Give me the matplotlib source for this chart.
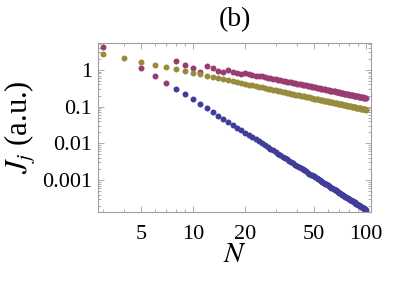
import matplotlib
matplotlib.use("Agg")
import matplotlib.pyplot as plt
import numpy as np
from matplotlib.ticker import FixedLocator, NullFormatter, FixedFormatter

plt.rcParams['font.family'] = ['Liberation Serif', 'DejaVu Serif']
plt.rcParams['mathtext.fontset'] = 'stix'

# N values
n_all = list(range(3, 101))
n_blue = list(range(8, 101))

# blue series (steep one), N = 8..100
blue = [0.305, 0.214, 0.156, 0.117, 0.0903, 0.0710, 0.0569, 0.0462, 0.0381, 0.0318,
        0.0267, 0.0227, 0.0195, 0.0168, 0.0147, 0.0128, 0.0113, 0.00998, 0.00888, 0.00793,
        0.00711, 0.00640, 0.00578, 0.00524, 0.00476, 0.00434, 0.00397, 0.00364, 0.00334, 0.00308,
        0.00284, 0.00263, 0.00244, 0.00226, 0.00211, 0.00196, 0.00183, 0.00171, 0.00160, 0.00150,
        0.00141, 0.00133, 0.00125, 0.00118, 0.00111, 0.00105, 0.000991, 0.000938, 0.000888, 0.000842,
        0.000800, 0.000760, 0.000722, 0.000687, 0.000655, 0.000624, 0.000595, 0.000568, 0.000543, 0.000519,
        0.000496, 0.000475, 0.000455, 0.000436, 0.000418, 0.000401, 0.000385, 0.000370, 0.000355, 0.000342,
        0.000329, 0.000316, 0.000305, 0.000294, 0.000283, 0.000273, 0.000263, 0.000254, 0.000245, 0.000237,
        0.000229, 0.000221, 0.000214, 0.000207, 0.000200, 0.000194, 0.000188, 0.000182, 0.000176, 0.000171,
        0.000166, 0.000161, 0.000156]

# purple series, N = 3..100 (N = 4 not shown)
purple = [4.3, np.nan, 1.15, 0.70, 0.45, 1.79, 1.39, 1.11, 0.90, 1.28,
          1.11, 0.96, 0.85, 1.00, 0.90, 0.83, 0.77, 0.83, 0.77, 0.72,
          0.68, 0.70, 0.66, 0.63, 0.60, 0.60, 0.57, 0.55, 0.53, 0.53,
          0.51, 0.49, 0.475, 0.47, 0.455, 0.44, 0.43, 0.425, 0.415, 0.405,
          0.395, 0.386, 0.378, 0.370, 0.362, 0.354, 0.347, 0.340, 0.333, 0.327,
          0.321, 0.315, 0.309, 0.304, 0.298, 0.293, 0.288, 0.283, 0.279, 0.274,
          0.270, 0.266, 0.262, 0.258, 0.254, 0.250, 0.246, 0.243, 0.239, 0.236,
          0.233, 0.230, 0.227, 0.224, 0.221, 0.218, 0.215, 0.213, 0.210, 0.207,
          0.205, 0.202, 0.200, 0.198, 0.195, 0.193, 0.191, 0.189, 0.187, 0.185,
          0.183, 0.181, 0.179, 0.177, 0.175, 0.173, 0.172, 0.170]

# olive series, N = 3..100
olive = [2.77, 2.08, 1.66, 1.38, 1.19, 1.04, 0.922, 0.830, 0.755, 0.692,
         0.638, 0.593, 0.553, 0.519, 0.488, 0.461, 0.437, 0.415, 0.395, 0.377,
         0.361, 0.346, 0.332, 0.319, 0.307, 0.296, 0.286, 0.277, 0.268, 0.259,
         0.252, 0.244, 0.237, 0.231, 0.224, 0.218, 0.213, 0.208, 0.202, 0.198,
         0.193, 0.189, 0.184, 0.180, 0.177, 0.173, 0.169, 0.166, 0.163, 0.160,
         0.157, 0.154, 0.151, 0.148, 0.146, 0.143, 0.141, 0.138, 0.136, 0.134,
         0.132, 0.130, 0.128, 0.126, 0.124, 0.122, 0.120, 0.119, 0.117, 0.115,
         0.114, 0.112, 0.111, 0.109, 0.108, 0.106, 0.105, 0.104, 0.102, 0.101,
         0.100, 0.0988, 0.0976, 0.0965, 0.0954, 0.0943, 0.0933, 0.0922, 0.0912, 0.0902,
         0.0892, 0.0883, 0.0874, 0.0865, 0.0856, 0.0847, 0.0838, 0.0830]

x_ticks = [5, 10, 20, 50, 100]
x_labels = ['5', '10', '20', '50', '100']
y_ticks = [1, 0.1, 0.01, 0.001]
y_labels = ['1', '0.1', '0.01', '0.001']

fig = plt.figure(figsize=(4.15, 2.82), dpi=100)
ax = fig.add_axes([0.236, 0.248, 0.658, 0.600])

ms = 4.3
ax.plot(n_blue, blue, 'o', color='#3f3d99', ms=ms, mew=0)
ax.plot(n_all, purple, 'o', color='#993d71', ms=ms, mew=0)
ax.plot(n_all, olive, 'o', color='#998b3d', ms=ms, mew=0)

ax.set_xscale('log')
ax.set_yscale('log')
ax.set_xlim(2.82, 107)
ax.set_ylim(1.34e-4, 5.44)

ax.xaxis.set_major_locator(FixedLocator(x_ticks))
ax.xaxis.set_major_formatter(FixedFormatter(x_labels))
ax.xaxis.set_minor_locator(FixedLocator([3, 4, 6, 7, 8, 9, 30, 40, 60, 70, 80, 90]))
ax.xaxis.set_minor_formatter(NullFormatter())
ax.yaxis.set_major_locator(FixedLocator(y_ticks))
ax.yaxis.set_major_formatter(FixedFormatter(y_labels))
minor_y = [m * 10.0 ** e for e in range(-4, 1) for m in range(2, 10)]
ax.yaxis.set_minor_locator(FixedLocator(minor_y))
ax.yaxis.set_minor_formatter(NullFormatter())

for s in ax.spines.values():
    s.set_color('#a0a0a0')
    s.set_linewidth(0.8)
ax.tick_params(which='both', direction='in', top=True, right=True, color='#a0a0a0',
               labelsize=16, width=0.6)
ax.tick_params(which='major', length=4)
ax.tick_params(which='minor', length=2)
ax.tick_params(axis='x', pad=9)
ax.tick_params(axis='y', pad=4)

ax.set_xlabel('$N$', fontsize=21, labelpad=-1)
ax.set_ylabel('$J_j$ (a.u.)', fontsize=22, labelpad=3)
ax.set_title('(b)', fontsize=20, pad=12)

fig.savefig('out.png', dpi=100)
